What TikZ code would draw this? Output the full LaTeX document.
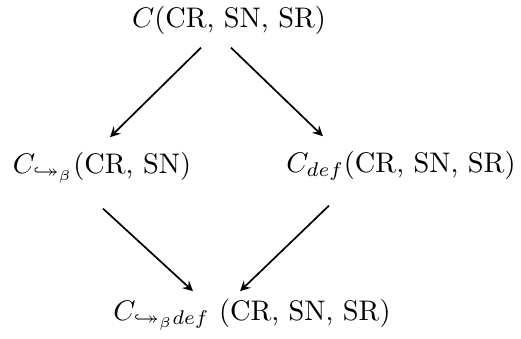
\documentclass[tikz,border=0pt]{standalone}
\usepackage{amssymb}
\newcommand{\hookarr}{\lhook\joinrel\twoheadrightarrow}
\begin{document}
\begin{tikzpicture}[>=stealth,x=0.353pt,y=-0.353pt,
		lbl/.style={inner sep=0pt,anchor=base}]
			\useasboundingbox (0,0) rectangle (521,338);
			\node[lbl] (Ctop) at (229,27) {$C$(CR, SN, SR)};
			\node[lbl] (Cbeta) at (102,173) {$C_{\hookarr_\beta}$(CR, SN)};
			\node[lbl] (Cdef) at (401,172) {$C_{def}$(CR, SN, SR)};
			\node[lbl] (Cbot) at (252,320) {$C_{\hookarr_\beta def}$ (CR, SN, SR)};
			\draw[->,line width=0.6] ([shift={(-28,13)}]Ctop.south) --
			([shift={(8,-14)}]Cbeta.north);
			\draw[->,line width=0.6] ([shift={(2,13)}]Ctop.south) --
			([shift={(37,-14)}]Cdef.north west);
			\draw[->,line width=0.6] ([shift={(1,25)}]Cbeta.south) --
			([shift={(-59,-7)}]Cbot.north);
			\draw[->,line width=0.6] ([shift={(43,25)}]Cdef.south west) --
			([shift={(-12,-7)}]Cbot.north);
		\end{tikzpicture}
\end{document}
